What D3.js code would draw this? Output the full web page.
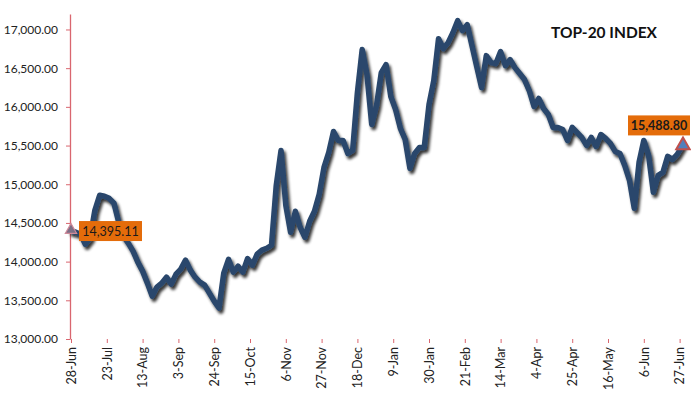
<!DOCTYPE html>
<html>
<head>
<meta charset="utf-8">
<script src="https://d3js.org/d3.v7.min.js"></script>
<style>
  body { margin: 0; background: white; }
  text { font-family: Lato, "Open Sans", sans-serif; }
</style>
</head>
<body>
<div id="container"></div>
<script>
let w = 691;
let h = 397;

// index closes, one reading every 2nd trading day (28-Jun .. 27-Jun)
let closes = [
  14395.11, 14380, 14354, 14225, 14302, 14663, 14857, 14844, 14818, 14754,
  14509, 14328, 14238, 14135, 13993, 13877, 13722, 13554, 13671, 13722,
  13799, 13709, 13838, 13903, 14020, 13890, 13799, 13735, 13696, 13593,
  13490, 13400, 13851, 14030, 13864, 13941, 13864, 14040, 13954, 14096,
  14148, 14173, 14212, 14986, 15437, 14728, 14380, 14651, 14444, 14315,
  14522, 14651, 14870, 15218, 15411, 15682, 15566, 15566, 15398, 15437,
  16185, 16740, 16417, 15772, 16017, 16443, 16546, 16133, 15966, 15721,
  15579, 15205, 15398, 15476, 15476, 16030, 16340, 16881, 16752, 16830,
  16959, 17114, 16985, 17062, 16791, 16520, 16250, 16662, 16572, 16559,
  16714, 16533, 16611, 16507, 16430, 16353, 16211, 16005, 16108, 15979,
  15901, 15734, 15734, 15708, 15566, 15734, 15669, 15605, 15502, 15605,
  15489, 15643, 15592, 15527, 15424, 15398, 15244, 15050, 14690, 15282,
  15566, 15373, 14896, 15115, 15153, 15360, 15321, 15386, 15488.80
];
let dayStep = 2;

// category labels, one every 15 trading days
let tickLabels = ['28-Jun', '23-Jul', '13-Aug', '3-Sep', '24-Sep', '15-Oct', '6-Nov', '27-Nov',
  '18-Dec', '9-Jan', '30-Jan', '21-Feb', '14-Mar', '4-Apr', '25-Apr', '16-May', '6-Jun', '27-Jun'];
let tickEvery = 15;

let yTicks = [13000, 13500, 14000, 14500, 15000, 15500, 16000, 16500, 17000];

let title = 'TOP-20 INDEX';

let viz = d3.select("#container")
  .append("svg")
    .attr("width", w)
    .attr("height", h)
    .style("background-color", "white")
;

let defs = viz.append("defs");
let shadow = defs.append("filter").attr("id", "lineShadow")
  .attr("x", "-5%").attr("y", "-10%").attr("width", "110%").attr("height", "125%");
shadow.append("feGaussianBlur").attr("in", "SourceAlpha").attr("stdDeviation", 1.6).attr("result", "blur");
shadow.append("feOffset").attr("dx", 1.5).attr("dy", 3).attr("result", "off");
shadow.append("feComponentTransfer").append("feFuncA").attr("type", "linear").attr("slope", 0.8);
let merge = shadow.append("feMerge");
merge.append("feMergeNode");
merge.append("feMergeNode").attr("in", "SourceGraphic");

let axisShadow = defs.append("filter").attr("id", "axisShadow")
  .attr("x", "-2%").attr("y", "-200%").attr("width", "104%").attr("height", "500%");
axisShadow.append("feDropShadow").attr("dx", 0).attr("dy", 2.5).attr("stdDeviation", 1)
  .attr("flood-color", "#555").attr("flood-opacity", 0.8);

let lastDay = (closes.length - 1) * dayStep;
let xScale = d3.scaleLinear().domain([0, lastDay]).range([71, 682]);
let yScale = d3.scaleLinear().domain([13000, 17200]).range([339, 14]);

let tickDays = tickLabels.map((d, i) => i * tickEvery);

// x axis
let xAxis = d3.axisBottom(xScale)
  .tickValues(tickDays)
  .tickFormat((d, i) => tickLabels[i])
  .tickSize(4)
  .tickSizeOuter(0);

let xGroup = viz.append("g")
  .attr("transform", "translate(0," + yScale(13000) + ")")
  .call(xAxis);
xGroup.select(".domain")
  .attr("stroke", "#d9666f")
  .attr("stroke-width", 1.3)
  .attr("d", "M70,0.5H" + (xScale(lastDay) + 1))
  .attr("filter", "url(#axisShadow)");
xGroup.selectAll(".tick line").attr("stroke", "#d9666f");
xGroup.selectAll(".tick text")
  .attr("transform", "rotate(-90)")
  .attr("x", -8)
  .attr("y", 0)
  .attr("dy", "0.35em")
  .style("text-anchor", "end")
  .style("font-size", "12.5px")
  .attr("fill", "#222");

// y axis
let yAxis = d3.axisLeft(yScale)
  .tickValues(yTicks)
  .tickFormat(d3.format(",.2f"))
  .tickSize(4)
  .tickPadding(8)
  .tickSizeOuter(0);

let yGroup = viz.append("g")
  .attr("transform", "translate(70,0)")
  .call(yAxis);
yGroup.select(".domain").attr("stroke", "#d9666f").attr("stroke-width", 1.3);
yGroup.selectAll(".tick line").attr("stroke", "#d9666f");
yGroup.selectAll(".tick text")
  .style("font-size", "12px")
  .attr("fill", "#222");

// the index line
let line = d3.line()
  .x((d, i) => xScale(i * dayStep))
  .y(d => yScale(d));

viz.append("path")
  .datum(closes)
  .attr("d", line)
  .attr("fill", "none")
  .attr("stroke", "#29476c")
  .attr("stroke-width", 5.5)
  .attr("stroke-linejoin", "round")
  .attr("stroke-linecap", "round")
  .attr("filter", "url(#lineShadow)");

// end point markers
let tri = d3.symbol().type(d3.symbolTriangle);
let first = closes[0];
let last = closes[closes.length - 1];

viz.append("path")
  .attr("d", tri.size(55)())
  .attr("transform", "translate(" + xScale(0) + "," + (yScale(first) - 1) + ")")
  .attr("fill", "#7d6f86")
  .attr("stroke", "#d08a9a")
  .attr("stroke-width", 1.2);

viz.append("path")
  .attr("d", tri.size(80)())
  .attr("transform", "translate(" + (xScale(lastDay) + 1) + "," + (yScale(last) - 1) + ")")
  .attr("fill", "#4f7fbd")
  .attr("stroke", "#c0504d")
  .attr("stroke-width", 2);

// value labels
let fmt = d3.format(",.2f");

let startLabel = viz.append("g")
  .attr("transform", "translate(" + (xScale(0) + 8) + "," + (yScale(first) - 10) + ")");
startLabel.append("rect")
  .attr("width", 63).attr("height", 20)
  .attr("fill", "#e46c0a");
startLabel.append("text")
  .attr("x", 31.5).attr("y", 14.5)
  .attr("text-anchor", "middle")
  .style("font-size", "12.5px")
  .attr("fill", "#1a1a1a")
  .text(fmt(first));

let endLabel = viz.append("g")
  .attr("transform", "translate(" + (xScale(lastDay) - 54) + "," + (yScale(last) - 31) + ")");
endLabel.append("rect")
  .attr("width", 62).attr("height", 20)
  .attr("fill", "#e46c0a");
endLabel.append("text")
  .attr("x", 31).attr("y", 14.5)
  .attr("text-anchor", "middle")
  .style("font-size", "12.5px")
  .style("font-weight", "bold")
  .attr("fill", "#1a1a1a")
  .text(fmt(last));

// title
viz.append("text")
  .attr("x", 604)
  .attr("y", 38)
  .attr("text-anchor", "middle")
  .style("font-size", "15.5px")
  .style("font-weight", "bold")
  .attr("fill", "#111")
  .text(title);
</script>
</body>
</html>
